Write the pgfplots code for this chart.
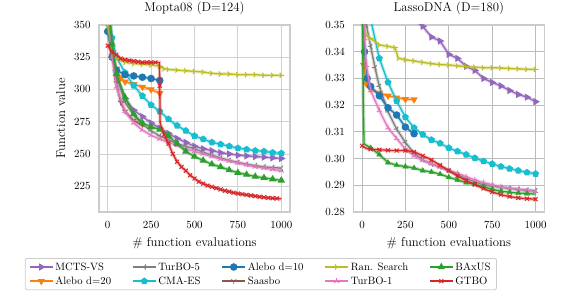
\documentclass[border=0pt]{standalone}
\usepackage{pgfplots}
\pgfplotsset{compat=1.18}
\usepackage{pgfplotstable}
\usetikzlibrary{plotmarks}
\definecolor{tabpurple}{HTML}{9467BD}
\definecolor{taborange}{HTML}{FF7F0E}
\definecolor{tabgray}{HTML}{7F7F7F}
\definecolor{tabcyan}{HTML}{17BECF}
\definecolor{tabblue}{HTML}{1F77B4}
\definecolor{tabbrown}{HTML}{8C564B}
\definecolor{tabolive}{HTML}{BCBD22}
\definecolor{tabpink}{HTML}{E377C2}
\definecolor{tabgreen}{HTML}{2CA02C}
\definecolor{tabred}{HTML}{D62728}
\definecolor{framecol}{HTML}{CCCCCC}
\definecolor{gridL}{HTML}{D2D2D2}
\definecolor{gridR}{HTML}{BBBBBB}

% ---------------- Mopta08 ----------------
\pgfplotstableread{
x y
0 360
25 330
50 310
100 293
150 284
200 279
250 274
300 270
350 266
400 262
450 259
500 256
550 254
600 252.5
650 251
700 250
750 249
800 248.5
850 248
900 247.5
950 247
1000 246.5
}\LmctsMD
\pgfplotstableread{
x y
0 350
25 326
50 316
75 309
100 306
150 304
200 302
250 300
300 297
}\LaleboTwMD
\pgfplotstableread{
x y
0 370
25 335
50 312
100 290
150 280
200 273
250 268
300 264
350 261
400 258
450 256
500 254
550 251.5
600 249
650 247
700 245
750 243.5
800 242
850 241
900 240
950 239.5
1000 239
}\LturbofMD
\pgfplotstableread{
x y
0 380
25 340
50 325
100 313
150 303
200 295
250 288
300 283
350 277
400 272
450 268
500 264
550 261.5
600 259
650 257.5
700 256
750 254.5
800 253.5
850 252.5
900 252
950 251
1000 250.5
}\LcmaMD
\pgfplotstableread{
x y
0 345
25 325
50 315
100 311.5
150 310.5
200 309.5
250 308.5
300 307
}\LaleboTeMD
\pgfplotstableread{
x y
0 360
25 335
50 305
75 290
100 283
150 276
200 272
}\LsaasMD
\pgfplotstableread{
x y
0 350
25 330
50 324
100 321
150 320
200 319.5
250 319
300 318
325 316
350 315.5
400 315
450 314.5
500 314
550 313.5
600 312.5
650 312
700 312
750 311.5
800 311.5
850 311.5
900 311
950 311
1000 311
}\LrandMD
\pgfplotstableread{
x y
0 375
25 325
50 302
100 283
150 274
200 268.5
250 264.5
300 261.5
350 259
400 256.5
450 254
500 252
550 250
600 248
650 246
700 244.5
750 243
800 241.5
850 240
900 239
950 238
1000 237
}\LturboaMD
\pgfplotstableread{
x y
0 370
25 335
50 312
100 294
150 281
200 274
250 271
300 269
350 264
400 258
450 252
500 248
550 245
600 242
650 240
700 237.5
750 235.5
800 234
850 232.5
900 231.5
950 230.5
1000 229.5
}\LbaxusMD
\pgfplotstableread{
x y
0 334
25 329
50 327
75 324
100 323
125 322.5
150 322
175 321.5
200 321
225 321
250 321
275 321
298 321
300 303
302 274
325 265
350 258
375 250
400 244
425 240
450 237
475 233.5
500 231
525 228.5
550 227
575 225.5
600 224.5
625 223.5
650 222.5
675 221.5
700 220.8
725 220
750 219.3
775 218.8
800 218.3
825 217.8
850 217.3
875 216.8
900 216.4
925 216
950 215.7
975 215.5
1000 215.2
}\LgtboMD
\pgfplotstableread{
x y
0 334
25 329
50 327
75 324
100 323
125 322.5
150 322
175 321.5
200 321
225 321
250 321
275 321
300 303
325 265
350 258
375 250
400 244
425 240
450 237
475 233.5
500 231
525 228.5
550 227
575 225.5
600 224.5
625 223.5
650 222.5
675 221.5
700 220.8
725 220
750 219.3
775 218.8
800 218.3
825 217.8
850 217.3
875 216.8
900 216.4
925 216
950 215.7
975 215.5
}\LgtboMKMD

% ---------------- LassoDNA ----------------
\pgfplotstableread{
x y
300 0.352
350 0.3495
400 0.3455
450 0.344
500 0.339
550 0.3375
600 0.3345
650 0.333
700 0.330
750 0.3285
800 0.3272
850 0.3255
900 0.3240
950 0.3230
1000 0.3213
}\LmctsLD
\pgfplotstableread{
x y
0 0.37
10 0.335
25 0.328
50 0.326
100 0.3245
150 0.3235
200 0.3228
250 0.3222
300 0.3221
}\LaleboTwLD
\pgfplotstableread{
x y
0 0.37
25 0.35
50 0.342
75 0.334
100 0.327
150 0.3175
200 0.311
250 0.306
300 0.302
350 0.2995
400 0.298
450 0.2968
500 0.2955
550 0.294
600 0.2925
650 0.2913
700 0.2903
750 0.2897
800 0.2892
850 0.2888
900 0.2885
950 0.2882
1000 0.2880
}\LturbofLD
\pgfplotstableread{
x y
0 0.37
50 0.352
100 0.3375
150 0.3285
200 0.3215
250 0.3155
300 0.3115
350 0.309
400 0.307
450 0.3057
500 0.304
550 0.3027
600 0.3015
650 0.3002
700 0.299
750 0.298
800 0.297
850 0.2962
900 0.2955
950 0.2948
1000 0.2943
}\LcmaLD
\pgfplotstableread{
x y
0 0.37
15 0.34
30 0.330
50 0.327
100 0.3235
150 0.3190
200 0.3163
250 0.3118
300 0.3093
}\LaleboTeLD
\pgfplotstableread{
x y
0 0.352
25 0.346
50 0.345
100 0.3425
150 0.342
190 0.3415
210 0.3375
250 0.337
300 0.3365
350 0.336
400 0.3355
450 0.3352
500 0.335
550 0.3347
600 0.3344
650 0.3342
700 0.334
750 0.334
800 0.3339
850 0.3337
900 0.3336
950 0.3334
1000 0.3334
}\LrandLD
\pgfplotstableread{
x y
0 0.37
15 0.345
25 0.335
50 0.3255
100 0.318
150 0.3115
200 0.3075
250 0.3035
300 0.3010
350 0.2993
400 0.298
450 0.2968
500 0.2955
550 0.2945
600 0.2932
650 0.292
700 0.291
750 0.2902
800 0.2895
850 0.289
900 0.2885
950 0.288
1000 0.2877
}\LturboaLD
\pgfplotstableread{
x y
0 0.37
8 0.32
12 0.3055
50 0.304
100 0.3015
150 0.2985
200 0.2975
250 0.297
300 0.2965
350 0.2955
400 0.295
450 0.2942
500 0.293
550 0.292
600 0.291
650 0.2903
700 0.2895
750 0.2885
800 0.2878
850 0.2874
900 0.2871
950 0.2869
1000 0.2867
}\LbaxusLD
\pgfplotstableread{
x y
50 0.304
100 0.3015
150 0.2985
200 0.2975
250 0.297
300 0.2965
350 0.2955
400 0.295
450 0.2942
500 0.293
550 0.292
600 0.291
650 0.2903
700 0.2895
750 0.2885
800 0.2878
850 0.2874
900 0.2871
950 0.2869
}\LbaxusMKLD
\pgfplotstableread{
x y
0 0.3048
25 0.3038
50 0.3035
75 0.3034
100 0.3033
125 0.3032
150 0.3031
175 0.303
200 0.303
225 0.303
250 0.303
275 0.3028
300 0.3025
325 0.3018
350 0.301
375 0.3003
400 0.2995
425 0.2985
450 0.2975
475 0.2965
500 0.2955
525 0.2945
550 0.2935
575 0.2926
600 0.2918
625 0.291
650 0.2903
675 0.2895
700 0.2888
725 0.2881
750 0.2875
775 0.287
800 0.2865
825 0.2861
850 0.2858
875 0.2855
900 0.2853
925 0.2851
950 0.285
975 0.2849
1000 0.2848
}\LgtboLD

\newcommand{\band}[2]{\addplot[draw=#2, line width=3.6pt, opacity=0.28, no markers, forget plot] table {#1};}
\newcommand{\series}[3]{%
  \band{#1}{#2}
  \addplot[color=#2, line width=1.3pt, #3, forget plot] table {#1};}

\pgfplotsset{
  mcts/.style={mark=triangle*, mark size=3pt, mark options={rotate=-90, solid, fill=tabpurple}},
  aletw/.style={mark=triangle*, mark size=3pt, mark options={rotate=180, solid, fill=taborange}},
  turbof/.style={mark=Mercedes star, mark size=3pt, mark options={rotate=90, solid, line width=1pt}},
  cma/.style={mark=pentagon*, mark size=2.9pt, mark options={solid, fill=tabcyan}},
  alete/.style={mark=*, mark size=3.1pt, mark options={solid, fill=tabblue}},
  saas/.style={mark=Mercedes star, mark size=3pt, mark options={rotate=180, solid, line width=1pt}},
  rand/.style={mark=Mercedes star, mark size=3pt, mark options={rotate=-90, solid, line width=1pt}},
  turboa/.style={mark=Mercedes star, mark size=3pt, mark options={solid, line width=1pt}},
  baxus/.style={mark=triangle*, mark size=3pt, mark options={solid, fill=tabgreen}},
  gtbo/.style={mark=x, mark size=2.8pt, mark options={solid, line width=1pt}},
  myaxis/.style={
    width=191bp, height=187bp, scale only axis,
    xmin=-50, xmax=1050, xtick={0,250,500,750,1000},
    grid=major,
    axis line style={draw=framecol, line width=1.2bp},
    tick style={draw=none},
    clip marker paths=true,
    ticklabel style={font=\fontsize{11.4}{13}\selectfont},
    /pgf/number format/1000 sep={},
    xticklabel style={yshift=-6bp},
    yticklabel style={xshift=-5bp},
    label style={font=\fontsize{12.8}{15}\selectfont},
    title style={font=\fontsize{12.8}{15}\selectfont, at={(axis description cs:0.5,1.055)}, anchor=center},
    xlabel style={at={(axis description cs:0.5,-0.166)}, anchor=center},
    xlabel={\# function evaluations},
  }
}

\begin{document}
\begin{tikzpicture}
\begin{axis}[myaxis, at={(0,0)}, anchor=south west,
  ymin=205, ymax=350, ytick={225,250,275,300,325,350},
  major grid style={draw=gridL, line width=0.9bp},
  title={Mopta08 (D=124)},
  ylabel={Function value},
  ylabel style={at={(axis description cs:-0.2,0.5)}, anchor=center},
]
\series{\LmctsMD}{tabpurple}{mcts}
\series{\LaleboTwMD}{taborange}{aletw}
\series{\LturbofMD}{tabgray}{turbof}
\series{\LcmaMD}{tabcyan}{cma}
\series{\LaleboTeMD}{tabblue}{alete}
\series{\LsaasMD}{tabbrown}{saas}
\series{\LrandMD}{tabolive}{rand}
\series{\LturboaMD}{tabpink}{turboa}
\series{\LbaxusMD}{tabgreen}{baxus}
\band{\LgtboMD}{tabred}
\addplot[color=tabred, line width=1.3pt, no markers, forget plot] table {\LgtboMD};
\addplot[color=tabred, only marks, gtbo, forget plot] table {\LgtboMKMD};
\end{axis}

\begin{axis}[myaxis, at={(254.3bp,0)}, anchor=south west,
  ymin=0.28, ymax=0.35, ytick={0.28,0.29,0.30,0.31,0.32,0.33,0.34,0.35},
  scaled y ticks=false,
  yticklabel style={/pgf/number format/.cd, fixed, fixed zerofill, precision=2},
  major grid style={draw=gridR, line width=0.9bp},
  title={LassoDNA (D=180)},
  legend columns=5,
  legend style={at={(axis description cs:-0.484,-0.332)}, anchor=center,
    draw=framecol, line width=0.8bp, rounded corners=2pt,
    font=\fontsize{10.7}{12}\selectfont,
    inner xsep=4bp, inner ysep=2bp,
    /tikz/every even column/.append style={column sep=19bp},
    row sep=1bp},
  legend cell align=left,
  legend image code/.code={\draw[mark repeat=2, mark phase=2] plot coordinates {(0bp,0bp)(11.5bp,0bp)(23bp,0bp)};},
]
\series{\LmctsLD}{tabpurple}{mcts}
\series{\LaleboTwLD}{taborange}{aletw}
\series{\LturbofLD}{tabgray}{turbof}
\series{\LcmaLD}{tabcyan}{cma}
\series{\LaleboTeLD}{tabblue}{alete}
\series{\LrandLD}{tabolive}{rand}
\series{\LturboaLD}{tabpink}{turboa}
\band{\LbaxusLD}{tabgreen}
\addplot[color=tabgreen, line width=1.3pt, no markers, forget plot] table {\LbaxusLD};
\addplot[color=tabgreen, only marks, baxus, forget plot] table {\LbaxusMKLD};
\band{\LgtboLD}{tabred}
\addplot[color=tabred, line width=1.3pt, gtbo, mark repeat=2, forget plot] table {\LgtboLD};

\addlegendimage{color=tabpurple, line width=1.3pt, mcts}
\addlegendentry{MCTS-VS}
\addlegendimage{color=tabgray, line width=1.3pt, turbof}
\addlegendentry{TurBO-5}
\addlegendimage{color=tabblue, line width=1.3pt, alete}
\addlegendentry{Alebo d=10}
\addlegendimage{color=tabolive, line width=1.3pt, rand}
\addlegendentry{Ran. Search}
\addlegendimage{color=tabgreen, line width=1.3pt, baxus}
\addlegendentry{BAxUS}
\addlegendimage{color=taborange, line width=1.3pt, aletw}
\addlegendentry{Alebo d=20}
\addlegendimage{color=tabcyan, line width=1.3pt, cma}
\addlegendentry{CMA-ES}
\addlegendimage{color=tabbrown, line width=1.3pt, saas}
\addlegendentry{Saasbo}
\addlegendimage{color=tabpink, line width=1.3pt, turboa}
\addlegendentry{TurBO-1}
\addlegendimage{color=tabred, line width=1.3pt, gtbo}
\addlegendentry{GTBO}
\end{axis}
\pgfresetboundingbox
\path[use as bounding box] (-99bp,-90bp) rectangle (482bp,212bp);
\end{tikzpicture}
\end{document}
